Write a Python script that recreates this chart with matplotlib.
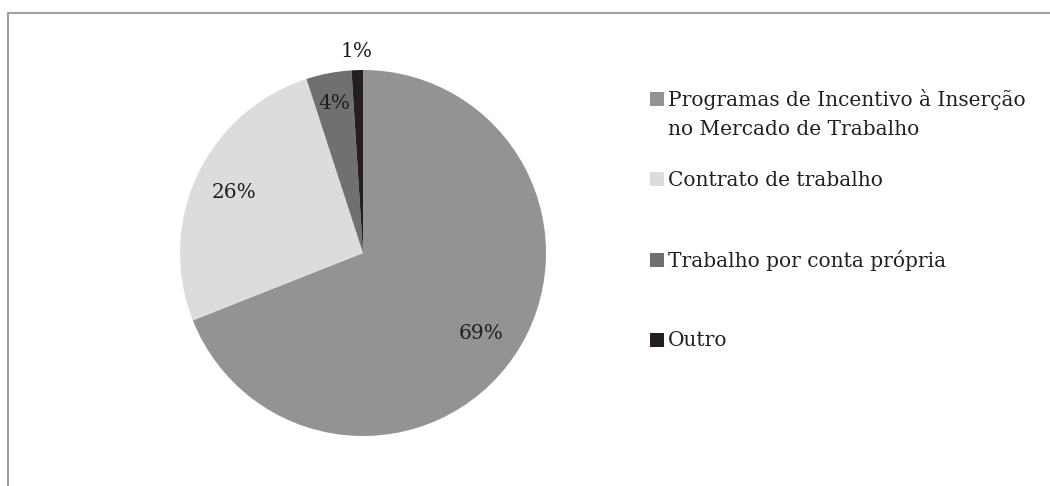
import matplotlib.pyplot as plt
from matplotlib.patches import Rectangle
import numpy as np

categorias = ['Programas de Incentivo à Inserção\nno Mercado de Trabalho',
              'Contrato de trabalho',
              'Trabalho por conta própria',
              'Outro']
valores = [69, 26, 4, 1]
cores = ['#939395', '#DCDCDE', '#707072', '#231F20']

plt.rcParams['font.family'] = ['DejaVu Serif']

W, H = 1050, 486
fig = plt.figure(figsize=(W / 100, H / 100), dpi=100)

# moldura (só topo e esquerda aparecem no recorte)
fig.add_artist(plt.Line2D([8 / W, 1], [1 - 13 / H, 1 - 13 / H], color='#A0A0A0', lw=1.5))
fig.add_artist(plt.Line2D([8 / W, 8 / W], [0, 1 - 13 / H], color='#A0A0A0', lw=1.5))

cx, cy, r = 363, 253, 183
ax = fig.add_axes([(cx - r) / W, 1 - (cy + r) / H, 2 * r / W, 2 * r / H])
wedges, textos, autotextos = ax.pie(valores, colors=cores, startangle=90, counterclock=False,
                                    autopct='%1.0f%%', pctdistance=0.78,
                                    wedgeprops=dict(linewidth=0),
                                    textprops=dict(fontsize=14.5, color='#231F20'))
ax.set_xlim(-1, 1)
ax.set_ylim(-1, 1)
ax.set_aspect('equal')
ax.axis('off')

# setores pequenos: rótulo mais afastado (o de 1% fica fora)
for i, dist in [(2, 0.83), (3, 1.10)]:
    w = wedges[i]
    ang = np.deg2rad((w.theta1 + w.theta2) / 2)
    autotextos[i].set_position((dist * np.cos(ang), dist * np.sin(ang)))

# legenda
base = [106.5, 186.5, 266.5, 346.5]
for cat, cor, y in zip(categorias, cores, base):
    fig.add_artist(Rectangle((650 / W, 1 - y / H), 14 / W, 14 / H,
                             facecolor=cor, edgecolor='none'))
    for k, linha in enumerate(cat.split('\n')):
        fig.text(668 / W, 1 - (y + 28 * k) / H, linha, fontsize=14.5, color='#231F20',
                 va='baseline', ha='left')

fig.savefig('out.png', dpi=100, facecolor='white')
